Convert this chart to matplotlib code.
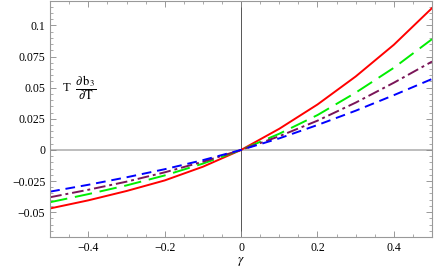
import numpy as np
import matplotlib.pyplot as plt
from matplotlib.ticker import MultipleLocator

plt.rcParams['font.family'] = ['Liberation Serif', 'DejaVu Serif']
plt.rcParams['mathtext.fontset'] = 'stix'

# values
gamma = [-0.5, -0.4, -0.3, -0.2, -0.1, 0.0, 0.1, 0.2, 0.3, 0.4, 0.5]
red = [-0.047, -0.0405, -0.033, -0.0245, -0.0135, 0.0, 0.017, 0.0365, 0.059, 0.0845, 0.114]
green = [-0.042, -0.0355, -0.0285, -0.0205, -0.011, 0.0, 0.013, 0.028, 0.046, 0.066, 0.089]
purple = [-0.038, -0.032, -0.0255, -0.018, -0.0095, 0.0, 0.011, 0.0235, 0.038, 0.054, 0.071]
blue = [-0.0335, -0.028, -0.022, -0.0155, -0.0082, 0.0, 0.0093, 0.020, 0.0315, 0.044, 0.057]


def fmt(v, p):
    if abs(v) < 1e-9:
        return '0'
    return ('%g' % v).replace('-', '\u2212')


fig = plt.figure(figsize=(4.36, 2.70), dpi=100)
ax = fig.add_axes([0.115, 0.122, 0.876, 0.876])

ax.axhline(0, color='#b8b8b8', lw=1.3, zorder=1)
ax.axvline(0, color='#555555', lw=0.7, zorder=1)

ax.plot(gamma, red, color='#ff0000', lw=1.4)
ax.plot(gamma, green, color='#00ee00', lw=1.4, dashes=(9, 4))
ax.plot(gamma, purple, color='#7a1558', lw=1.4, dashes=(6, 2, 1.5, 2))
ax.plot(gamma, blue, color='#0000ff', lw=1.4, dashes=(5, 3))

ax.set_xlim(-0.5, 0.5)
ax.set_ylim(-0.07, 0.12)
ax.xaxis.set_major_locator(MultipleLocator(0.2))
ax.xaxis.set_minor_locator(MultipleLocator(0.05))
ax.yaxis.set_major_locator(MultipleLocator(0.025))
ax.yaxis.set_minor_locator(MultipleLocator(0.005))
ax.xaxis.set_major_formatter(plt.FuncFormatter(fmt))
ax.yaxis.set_major_formatter(plt.FuncFormatter(fmt))

ax.tick_params(which='both', direction='in', top=True, right=True, colors='#888888',
               labelcolor='black', labelsize=8.5)
ax.tick_params(which='major', length=4, width=0.6)
ax.tick_params(which='minor', length=2, width=0.5)
for s in ax.spines.values():
    s.set_color('#999999')
    s.set_linewidth(0.8)

ax.text(0.03, 0.63, r'T $\;\dfrac{\partial\,\mathrm{b}_3}{\partial\mathrm{T}}$',
        transform=ax.transAxes, fontsize=9, va='center', ha='left')
ax.set_xlabel(r'$\gamma$', fontsize=9.5, labelpad=1)

fig.savefig('out.png', dpi=100)
